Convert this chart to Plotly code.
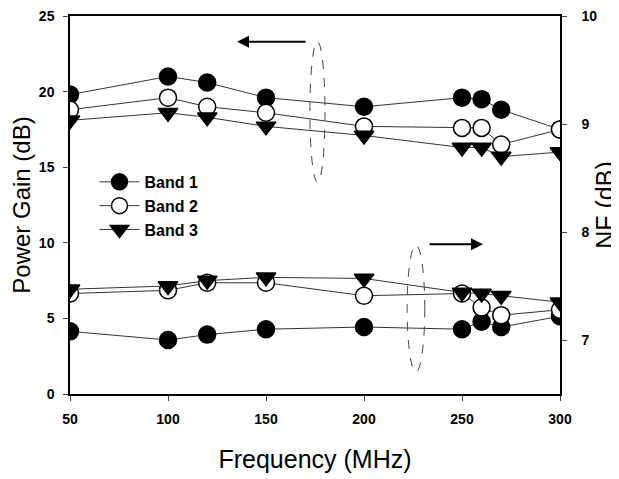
import plotly.graph_objects as go

freq = [50, 100, 120, 150, 200, 250, 260, 270, 300]

gain_band1 = [19.8, 21.0, 20.6, 19.6, 19.0, 19.6, 19.5, 18.8, 17.5]
gain_band2 = [18.8, 19.6, 19.0, 18.6, 17.7, 17.6, 17.6, 16.5, 17.5]
gain_band3 = [18.1, 18.6, 18.3, 17.7, 17.1, 16.3, 16.3, 15.7, 16.0]

nf_band1 = [7.08, 7.00, 7.05, 7.10, 7.12, 7.10, 7.17, 7.12, 7.22]
nf_band2 = [7.43, 7.46, 7.53, 7.53, 7.41, 7.43, 7.30, 7.23, 7.28]
nf_band3 = [7.47, 7.50, 7.55, 7.58, 7.57, 7.44, 7.43, 7.41, 7.35]

x_ticks = [50, 100, 150, 200, 250, 300]
gain_ticks = [0, 5, 10, 15, 20, 25]
nf_ticks = [7, 8, 9, 10]

line = dict(color="#333333", width=1)
styles = {
    "Band 1": dict(symbol="circle", color="black", line=dict(color="black", width=1.5)),
    "Band 2": dict(symbol="circle", color="white", line=dict(color="black", width=1.5)),
    "Band 3": dict(symbol="triangle-down", color="black", line=dict(color="black", width=1.5)),
}

series = [("Band 1", gain_band1, nf_band1),
          ("Band 2", gain_band2, nf_band2),
          ("Band 3", gain_band3, nf_band3)]

fig = go.Figure()
for name, g, n in series:
    m = dict(size=17, **styles[name])
    fig.add_trace(go.Scatter(x=freq, y=g, mode="lines+markers", name=name,
                             line=line, marker=m, yaxis="y", showlegend=True))
for name, g, n in series:
    m = dict(size=17, **styles[name])
    fig.add_trace(go.Scatter(x=freq, y=n, mode="lines+markers", name=name,
                             line=line, marker=m, yaxis="y2", showlegend=False))

tickfont = dict(family="Liberation Sans, Arial", size=14, color="black", weight="bold")
titlefont = dict(family="Liberation Sans, Arial", size=25, color="black")

# the page body adds an 8px offset; the figure is sized to fit the 619x479 window
fig.update_layout(
    width=611, height=471,
    margin=dict(l=62, r=59, t=8, b=85, autoexpand=False),
    paper_bgcolor="white", plot_bgcolor="white",
    showlegend=True,
    legend=dict(x=0.05, y=0.606, xanchor="left", yanchor="top",
                font=dict(family="Liberation Sans, Arial", size=16, color="black", weight="bold"),
                bgcolor="rgba(0,0,0,0)", itemwidth=40, tracegroupgap=0),
    xaxis=dict(range=[50, 300], tickvals=x_ticks, tickfont=tickfont, automargin=False,
               showgrid=False, zeroline=False, showline=True, linecolor="black",
               linewidth=1.5, mirror=True, ticks="outside", ticklen=5, ticklabelstandoff=6,
               ticklabeloverflow="allow",
               title=dict(text="Frequency (MHz)", font=titlefont, standoff=25)),
    yaxis=dict(range=[0, 25], tickvals=gain_ticks, tickfont=tickfont, automargin=False,
               showgrid=False, zeroline=False, showline=True, linecolor="black",
               linewidth=1.5, ticks="outside", ticklen=5, ticklabelstandoff=6,
               ticklabeloverflow="allow",
               title=dict(text="Power Gain (dB)", font=dict(titlefont, size=24), standoff=2)),
    yaxis2=dict(range=[6.5, 10], tickvals=nf_ticks, tickfont=tickfont, automargin=False,
                overlaying="y", side="right",
                showgrid=False, zeroline=False, showline=True, linecolor="black",
                linewidth=1.5, ticks="outside", ticklen=5, ticklabelstandoff=12,
                ticklabeloverflow="allow",
                title=dict(text="NF (dB)", font=titlefont, standoff=6)),
)

# dashed ellipses
fig.add_shape(type="circle", xref="x", yref="y", x0=172.4, x1=180.1, y0=14.0, y1=23.3,
              line=dict(color="#444444", width=1, dash="dash"))
fig.add_shape(type="circle", xref="x", yref="y", x0=222, x1=231, y0=1.45, y1=9.85,
              line=dict(color="#444444", width=1, dash="dash"))

# arrows
fig.add_annotation(x=135.2, y=23.3, ax=170.9, ay=23.3, xref="x", yref="y",
                   axref="x", ayref="y", showarrow=True, arrowhead=2,
                   arrowsize=1.2, arrowwidth=2, arrowcolor="black", text="")
fig.add_annotation(x=260.7, y=9.9, ax=232.7, ay=9.9, xref="x", yref="y",
                   axref="x", ayref="y", showarrow=True, arrowhead=2,
                   arrowsize=1.2, arrowwidth=2, arrowcolor="black", text="")

fig.write_html("out.html")
